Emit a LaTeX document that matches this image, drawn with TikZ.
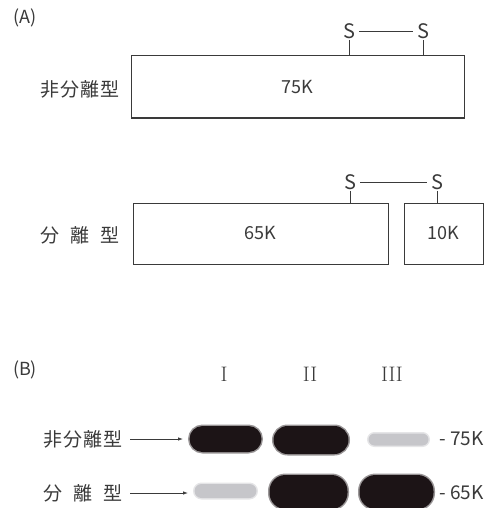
\documentclass[tikz,border=0pt]{standalone}
\usepackage{fontspec}
\newfontfamily\cjk{Noto Sans CJK JP}
\usetikzlibrary{arrows.meta}
\definecolor{ink}{HTML}{3A3A3A}
\definecolor{dark}{HTML}{1C1416}
\definecolor{pale}{HTML}{C6C6CA}
\begin{document}
\begin{tikzpicture}[x=1pt,y=-1pt,
  txt/.style={text=ink,font=\cjk\fontsize{18}{20}\selectfont,inner sep=0pt},
  stxt/.style={text=ink,font=\cjk\fontsize{20}{22}\selectfont,inner sep=1pt},
  lab/.style={text=ink,font=\cjk\fontsize{19}{21}\selectfont,inner sep=0pt},
  roman/.style={text=ink,font=\fontsize{21}{23}\selectfont,inner sep=0pt},
  protbox/.style={draw=ink,line width=1pt,inner sep=0pt,text=ink,font=\cjk\fontsize{18}{20}\selectfont},
  bond/.style={draw=ink,line width=0.8pt},
  band/.style={inner sep=0pt,line width=3pt,draw opacity=0.45},
  darkband/.style={band,fill=dark,draw=dark},
  paleband/.style={band,fill=pale,draw=pale},
  pointer/.style={draw=ink,line width=0.8pt,-{Latex[length=5pt,width=3.5pt]}}
]
\useasboundingbox (0,0) rectangle (494,508);
% ---------- (A)
\node[txt] (A) at (25,18) {(A)};
\node[protbox,minimum width=333pt,minimum height=62pt] (p75) at (297.5,87) {75K};
\node[lab] (la1) at (80,89) {\makebox[80pt][s]{非\hfill 分\hfill 離\hfill 型}};
\node[stxt] (s1) at (349,31) {S};
\node[stxt] (s2) at (423,31) {S};
\draw[bond,shorten <=3pt,shorten >=3pt] (s1) -- (s2);
\draw[bond] (s1.south) -- (s1.south |- p75.north);
\draw[bond] (s2.south) -- (s2.south |- p75.north);

\node[protbox,minimum width=255pt,minimum height=61pt] (p65) at (260.5,233.5) {65K};
\node[protbox,minimum width=79pt,minimum height=61pt] (p10) at (443.5,233.5) {10K};
\node[lab] (la2) at (80,235) {\makebox[80pt][s]{分\hfill 離\hfill 型}};
\node[stxt] (s3) at (350,182) {S};
\node[stxt] (s4) at (437,182) {S};
\draw[bond,shorten <=3pt,shorten >=3pt] (s3) -- (s4);
\draw[bond] (s3.south) -- (s3.south |- p65.north);
\draw[bond] (s4.south) -- (s4.south |- p10.north);

% ---------- (B)
\node[txt] (B) at (25,370) {(B)};
\node[roman] (r1) at (224,374) {I};
\node[roman] (r2) at (310,374) {II};
\node[roman] (r3) at (392,374) {III};

\node[darkband,minimum width=72pt,minimum height=26pt,rounded corners=13pt] (b11) at (225.5,439) {};
\node[darkband,minimum width=75pt,minimum height=28pt,rounded corners=14pt] (b12) at (311,440) {};
\node[paleband,minimum width=60pt,minimum height=12pt,rounded corners=6pt] (b13) at (398.5,439.5) {};
\node[paleband,minimum width=62pt,minimum height=14pt,rounded corners=7pt] (b21) at (225.5,491) {};
\node[darkband,minimum width=78pt,minimum height=34pt,rounded corners=16pt] (b22) at (308.5,492) {};
\node[darkband,minimum width=74pt,minimum height=34pt,rounded corners=16pt] (b23) at (396.5,492) {};

\node[lab] (lb1) at (83,439) {\makebox[80pt][s]{非\hfill 分\hfill 離\hfill 型}};
\node[lab] (lb2) at (83,493) {\makebox[80pt][s]{分\hfill 離\hfill 型}};
\draw[pointer,shorten <=7pt,shorten >=5pt] (lb1.east) -- (lb1.east -| b11.west);
\draw[pointer,shorten <=7pt,shorten >=5pt] (lb2.east) -- (lb2.east -| b21.west);

\node[txt,anchor=west,font=\cjk\fontsize{19}{21}\selectfont] (k75) at (439,439) {- 75K};
\node[txt,anchor=west,font=\cjk\fontsize{19}{21}\selectfont] (k65) at (439,493) {- 65K};
\end{tikzpicture}
\end{document}
